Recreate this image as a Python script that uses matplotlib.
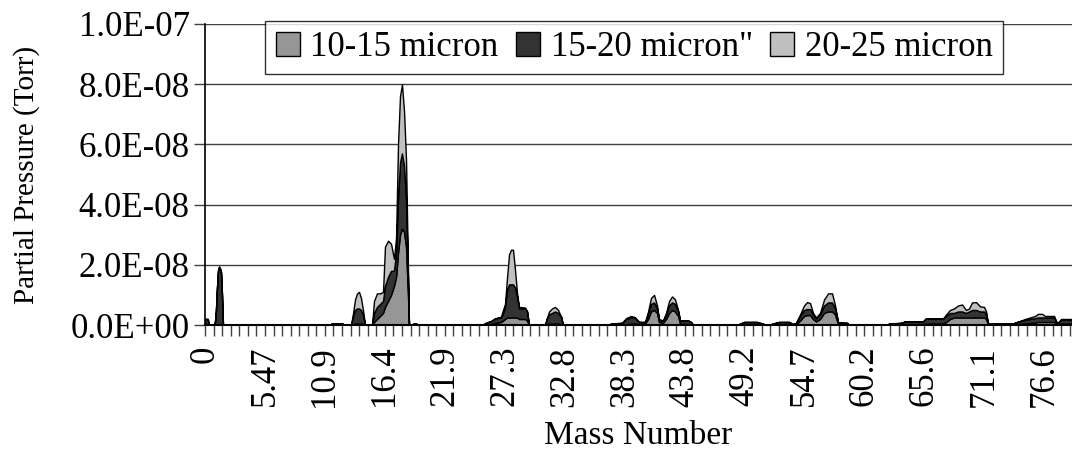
import matplotlib
matplotlib.use("Agg")
from matplotlib import pyplot as plt
from matplotlib.patches import Patch

plt.rcParams['font.family'] = ['Liberation Serif', 'DejaVu Serif']

# mass number, partial pressure in units of 1E-09 Torr for each size fraction
mass = [0.00, 0.25, 0.35, 0.80, 0.91, 1.00, 1.09, 1.19, 1.28, 1.37, 1.46, 1.55, 1.64,
        11.40, 11.59, 12.50, 12.68,
        13.32, 13.50, 13.69, 13.87, 14.05, 14.23, 14.42, 14.60,
        15.24, 15.42, 15.69, 15.97, 16.24, 16.42, 16.70, 16.97, 17.24, 17.43, 17.61,
        17.79, 17.97, 18.16, 18.34, 18.52, 18.61,
        18.90, 19.07, 19.25, 19.34,
        25.36, 25.55, 26.09, 26.46, 27.01, 27.19, 27.37, 27.55, 27.74, 27.92, 28.10,
        28.28, 28.47, 28.65, 29.20, 29.38, 29.56,
        31.02, 31.20, 31.39, 31.66, 31.93, 32.21, 32.48, 32.66,
        36.86, 37.04, 38.05, 38.41, 38.87, 39.23, 39.60, 40.15, 40.42, 40.69, 40.97,
        41.24, 41.42, 41.79, 42.06, 42.34, 42.61, 42.88, 43.16, 43.34, 44.07, 44.34, 44.53,
        48.54, 48.72, 49.18, 50.37, 51.00, 51.55, 51.73, 52.37, 53.28, 53.65, 53.92,
        54.29, 54.65, 54.93, 55.20, 55.47, 55.74, 56.11, 56.48, 56.84, 57.21, 57.48,
        57.76, 58.58, 58.76,
        62.23, 62.41, 63.50, 63.87, 65.51, 65.78, 67.34, 67.61, 67.97, 68.34, 68.70,
        69.07, 69.43, 69.71, 69.98, 70.35, 70.71, 71.08, 71.26, 71.44, 73.72, 74.09,
        74.82, 75.73, 76.00, 76.37, 76.64, 77.46, 77.74, 78.10, 79.10]

p10_15 = [0, 0, 0, 0, 0, 0, 0, 0, 0, 0, 0, 0, 0,
          0, 0, 0, 0,
          0, 0.3, 0.5, 0.5, 0.5, 0.5, 0.3, 0,
          0, 1, 2, 3, 4, 6, 8, 10, 13, 16, 24,
          30, 32, 31, 26, 10, 0,
          0, 0, 0, 0,
          0, 0, 0.3, 0.7, 1, 1.5, 2, 2.5, 2.5, 2.5, 2.5,
          2.5, 2.5, 2, 2, 1.5, 0,
          0, 0.3, 0.5, 0.5, 0.5, 0.5, 0.3, 0,
          0, 0, 0, 0.2, 0.5, 0.5, 0.3, 0.5, 2, 4.5, 5,
          4, 1, 0.7, 2, 4, 5, 4.5, 3, 0.5, 0.3, 0, 0,
          0, 0, 0.2, 0.2, 0, 0, 0, 0.2, 0.2, 0, 0.2,
          1.5, 3, 3.3, 3.3, 2, 1.2, 2, 4, 4.5, 4.5, 3.5,
          0.3, 0.2, 0,
          0, 0, 0, 0.3, 0.3, 0.5, 0.5, 1, 2, 2.5, 2.5,
          2.5, 2.5, 2.5, 2.5, 2.5, 2.5, 2.5, 2, 0.2, 0.2, 0.3,
          0.5, 0.8, 1, 1, 1, 1, 0.2, 0.5, 0.5]

p15_20 = [2, 2, 0, 0, 1, 5, 12, 18, 19, 18.5, 17.5, 10, 0,
          0, 0.6, 0.6, 0,
          0, 2.5, 4.5, 5, 5, 4.5, 3, 0,
          0, 3, 4, 4, 4, 7, 8, 8, 5, 8, 18,
          24, 25, 22, 16, 5, 0,
          0, 0.6, 0.6, 0,
          0, 0.6, 1, 1.5, 1.5, 2.5, 4, 9, 11, 11, 11,
          10, 7, 3.5, 3.5, 3, 0,
          0, 2, 3, 3.5, 4, 3.5, 2.5, 0,
          0, 0.5, 0.7, 1.8, 2, 1.8, 0.7, 0.5, 1.5, 2.5, 2.5,
          1.5, 0.8, 0.8, 1.5, 2.5, 2.5, 2.5, 1.5, 1, 1.2, 1, 0,
          0, 0.3, 0.8, 0.8, 0.3, 0, 0.4, 0.8, 0.8, 0.3, 0.5,
          1.5, 2, 2, 2, 1.5, 1, 1.5, 2.5, 3, 3, 2,
          0.5, 0.5, 0,
          0, 0.5, 0.7, 0.9, 0.9, 1.7, 1.7, 2, 2, 1.5, 2,
          2, 1.5, 2, 2.5, 2.5, 2, 2, 1.5, 0.2, 0.3, 0.7,
          1.2, 1.5, 1.5, 1.5, 1.5, 1.5, 0.3, 1.2, 1.2]

p20_25 = [0, 0, 0, 0, 0, 0, 0.5, 0.5, 0.5, 0.5, 0, 0, 0,
          0, 0, 0, 0,
          0, 1, 3.5, 5, 5.5, 4, 1.5, 0,
          0, 4, 4.5, 3.5, 3, 13, 12, 9, 4, 5, 18,
          22, 23, 18, 13, 3, 0,
          0, 0, 0, 0,
          0, 0, 0, 0, 0.3, 1, 1, 4, 10, 11.5, 11.5,
          6, 1, 0.5, 0.3, 0, 0,
          0, 0, 1, 1.5, 1.5, 1, 0, 0,
          0, 0, 0, 0.3, 0.5, 0.3, 0, 0, 1, 2, 2.5,
          1, 0, 0, 0.5, 1.5, 2, 1.5, 0.5, 0, 0, 0, 0,
          0, 0, 0, 0, 0, 0, 0, 0, 0, 0, 0,
          0.5, 1.5, 2.3, 2, 0.5, 0.3, 0.5, 2, 3, 3, 1,
          0, 0, 0,
          0, 0, 0, 0, 0, 0, 0, 0.5, 1, 1.5, 2,
          2.3, 1, 1, 2.5, 2.6, 1.7, 1.5, 1, 0, 0, 0,
          0.3, 0.7, 1.2, 1.2, 0.5, 0.5, 0, 0.3, 0.3]

labels = ["10-15 micron", "15-20 micron\"", "20-25 micron"]
colors = ["#969696", "#333333", "#c0c0c0"]

x_step = 0.78125
x_labels = ["0", "5.47", "10.9", "16.4", "21.9", "27.3", "32.8", "38.3",
            "43.8", "49.2", "54.7", "60.2", "65.6", "71.1", "76.6"]
y_labels = ["0.0E+00", "2.0E-08", "4.0E-08", "6.0E-08", "8.0E-08", "1.0E-07"]

fig = plt.figure(figsize=(10.72, 4.63), dpi=100)
ax = fig.add_axes([205 / 1072, 138 / 463, 867 / 1072, 301 / 463])

scale = 1e-9
base = [0.0] * len(mass)
for vals, col in zip([p10_15, p15_20, p20_25], colors):
    top = [b + v * scale for b, v in zip(base, vals)]
    ax.fill_between(mass, base, top, facecolor=col, edgecolor='black', linewidth=1.0)
    base = top

ax.set_xlim(0, 79.1)
ax.set_ylim(0, 1e-7)

ax.set_yticks([i * 2e-8 for i in range(6)])
ax.set_yticklabels(y_labels, fontsize=25)
ax.yaxis.grid(True, color='#404040', linewidth=1.0)
ax.set_axisbelow(True)

ax.set_xticks([i * 7 * x_step for i in range(len(x_labels))])
ax.set_xticklabels(x_labels, rotation=90, fontsize=25)
ax.set_xticks([i * x_step for i in range(102) if i % 7], minor=True)
ax.tick_params(axis='x', which='both', direction='out', length=8, width=1, color='#404040', pad=7)
ax.tick_params(axis='y', direction='out', length=8, width=1, color='#404040', pad=3)

for s in ['top', 'right']:
    ax.spines[s].set_visible(False)
ax.spines['left'].set_linewidth(1.2)
ax.spines['bottom'].set_linewidth(1.5)

ax.set_ylabel("Partial Pressure (Torr)", fontsize=21)
ax.yaxis.set_label_coords(-0.19, 0.5)
ax.set_xlabel("Mass Number", fontsize=24, labelpad=10)

handles = [Patch(facecolor=c, edgecolor='black', linewidth=1) for c in colors]
leg = ax.legend(handles, labels, loc='center', bbox_to_anchor=(0.495, 0.922), ncol=3,
                fontsize=25, frameon=True, fancybox=False, edgecolor='black',
                handlelength=0.7, handleheight=0.7, handletextpad=0.3, columnspacing=0.5,
                borderpad=0.3, borderaxespad=0)
leg.get_frame().set_linewidth(1.0)

fig.savefig("out.png", dpi=100)
